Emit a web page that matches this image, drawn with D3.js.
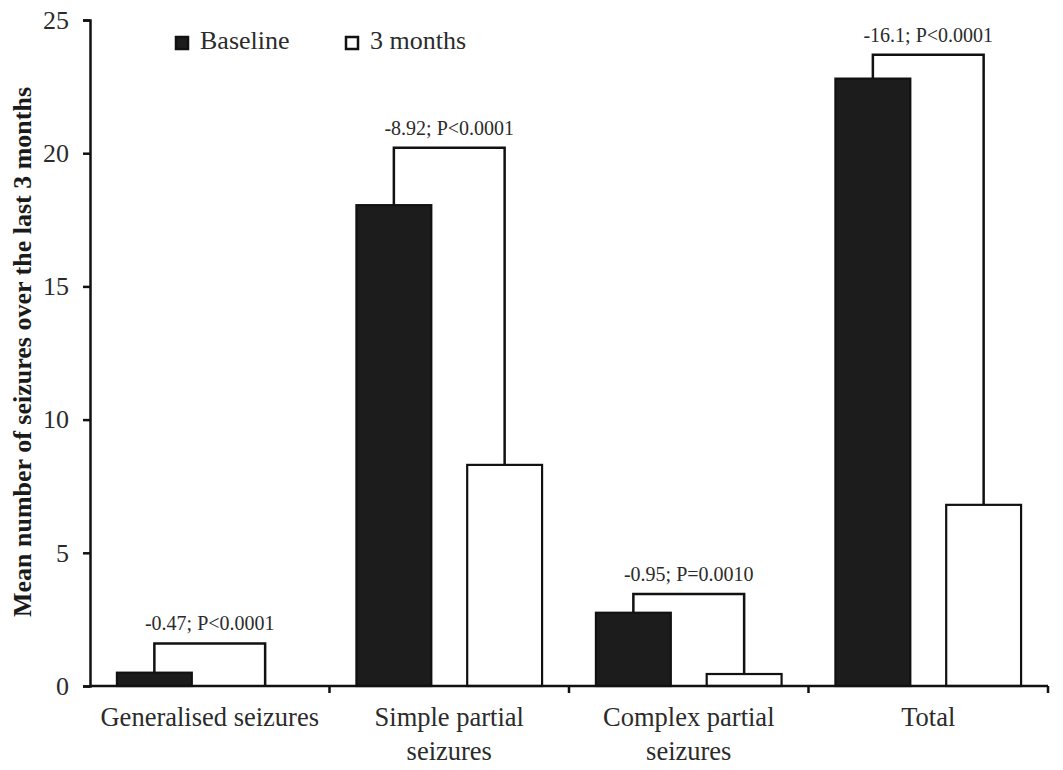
<!DOCTYPE html>
<html>
<head>
<meta charset="utf-8">
<script src="https://cdn.jsdelivr.net/npm/d3@7"></script>
<style>
  body { margin: 0; background: #fff; }
  svg { display: block; font-family: "Liberation Serif", "Times New Roman", serif; }
</style>
</head>
<body>
<svg id="chart" width="1063" height="770"></svg>
<script>
const categories = ["Generalised seizures", "Simple partial\nseizures", "Complex partial\nseizures", "Total"];
const series = ["Baseline", "3 months"];
const baseline = [0.5, 18.05, 2.75, 22.8];
const threeMonths = [0, 8.3, 0.45, 6.8];
const bracketTop = [1.6, 20.2, 3.45, 23.7];
const changeLabels = ["-0.47; P<0.0001", "-8.92; P<0.0001", "-0.95; P=0.0010", "-16.1; P<0.0001"];
const yTicks = [0, 5, 10, 15, 20, 25];

const svg = d3.select("#chart");
const textColor = "#2b2b2b";

const x = d3.scaleBand().domain(categories).range([90, 1048]);
const xSub = d3.scaleBand().domain(series).range([0, x.bandwidth()])
  .paddingInner(0.324).paddingOuter(0.243);
const y = d3.scaleLinear().domain([0, 25]).range([686, 20]);

const rows = categories.map((c, i) => ({
  cat: c, values: [baseline[i], threeMonths[i]], top: bracketTop[i], label: changeLabels[i]
}));

// bars
const groups = svg.append("g").selectAll("g").data(rows).join("g")
  .attr("transform", d => `translate(${x(d.cat)},0)`);

groups.selectAll("rect")
  .data(d => d.values.map((v, j) => ({ key: series[j], v })).filter(b => b.v > 0))
  .join("rect")
  .attr("x", d => xSub(d.key))
  .attr("y", d => y(d.v))
  .attr("width", xSub.bandwidth())
  .attr("height", d => y(0) - y(d.v))
  .attr("fill", d => d.key === "Baseline" ? "#1c1c1c" : "#fff")
  .attr("stroke", "#111")
  .attr("stroke-width", 2.2);

// brackets
groups.append("path")
  .attr("fill", "none")
  .attr("stroke", "#111")
  .attr("stroke-width", 2.5)
  .attr("d", d => {
    const x1 = xSub("Baseline") + xSub.bandwidth() / 2;
    const x2 = xSub("3 months") + xSub.bandwidth() / 2;
    return `M${x1},${y(d.values[0])}V${y(d.top)}H${x2}V${y(d.values[1])}`;
  });

groups.append("text")
  .attr("x", x.bandwidth() / 2)
  .attr("y", d => y(d.top) - 13)
  .attr("text-anchor", "middle")
  .attr("font-size", 20)
  .attr("fill", textColor)
  .text(d => d.label);

// y axis
const yAxis = svg.append("g")
  .attr("transform", "translate(90,0)")
  .call(d3.axisLeft(y).tickValues(yTicks).tickSize(7).tickPadding(14));
yAxis.select(".domain").attr("stroke", "#111").attr("stroke-width", 2.5);
yAxis.selectAll(".tick line").attr("stroke", "#111").attr("stroke-width", 2.5);
yAxis.selectAll(".tick text")
  .attr("font-size", 26).attr("font-family", "Liberation Serif").attr("fill", textColor);

// x axis
const xAxis = svg.append("g").attr("transform", `translate(0,${y(0)})`);
xAxis.append("line")
  .attr("x1", x.range()[0]).attr("x2", x.range()[1])
  .attr("stroke", "#111").attr("stroke-width", 2.5);
xAxis.selectAll(".xtick").data(categories).join("line")
  .attr("x1", d => x(d) + x.bandwidth()).attr("x2", d => x(d) + x.bandwidth())
  .attr("y1", 0).attr("y2", 7)
  .attr("stroke", "#111").attr("stroke-width", 2.5);

const xLabels = xAxis.selectAll(".xlab").data(categories).join("text")
  .attr("text-anchor", "middle")
  .attr("font-size", 26.5)
  .attr("fill", textColor)
  .attr("transform", d => `translate(${x(d) + x.bandwidth() / 2},40)`);
xLabels.selectAll("tspan").data(d => d.split("\n")).join("tspan")
  .attr("x", 0)
  .attr("dy", (d, i) => i === 0 ? 0 : 34)
  .text(d => d);

// y title
svg.append("text")
  .attr("transform", "translate(31,352) rotate(-90)")
  .attr("text-anchor", "middle")
  .attr("font-size", 26)
  .attr("font-weight", "bold")
  .attr("fill", "#1a1a1a")
  .text("Mean number of seizures over the last 3 months");

// legend
const legend = svg.append("g");
const legendX = [175, 345];
series.forEach((s, i) => {
  legend.append("rect")
    .attr("x", legendX[i] + 1).attr("y", 37)
    .attr("width", 12).attr("height", 12)
    .attr("fill", i === 0 ? "#1c1c1c" : "#fff")
    .attr("stroke", "#111").attr("stroke-width", 2.5);
  legend.append("text")
    .attr("x", legendX[i] + 25).attr("y", 49)
    .attr("font-size", 26)
    .attr("fill", textColor)
    .text(s);
});
</script>
</body>
</html>
